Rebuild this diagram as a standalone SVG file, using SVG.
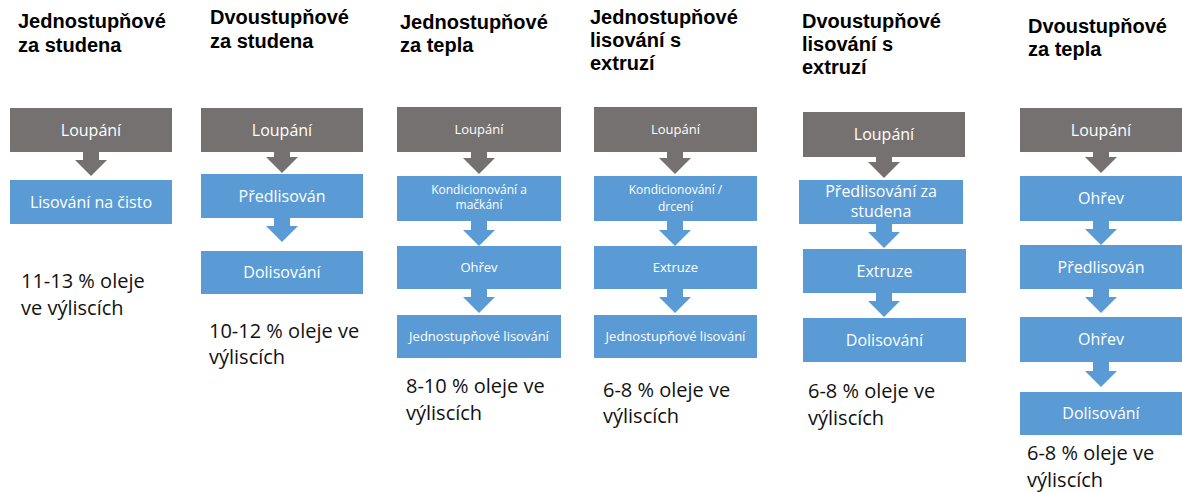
<svg xmlns="http://www.w3.org/2000/svg" width="1182" height="492" viewBox="0 0 1182 492">
<style>
.g{fill:#767171}
.b{fill:#5B9BD5}
.ga{fill:#767171}
.ba{fill:#5B9BD5}
.t{font-family:"Liberation Sans",Arial,sans-serif;font-weight:bold;font-size:20px;fill:#000}
.l{font-family:"Open Sans","Noto Sans",sans-serif;font-size:16px;fill:#fff;text-anchor:middle}
.s{font-family:"Open Sans","Noto Sans",sans-serif;font-size:13px;fill:#fff;text-anchor:middle}
.xs{font-family:"Open Sans","Noto Sans",sans-serif;font-size:12px;fill:#fff;text-anchor:middle}
.p{font-family:"Open Sans","Noto Sans",sans-serif;font-size:20px;fill:#111}
</style>
<rect width="1182" height="492" fill="#fff"/>

<!-- titles -->
<g id="titles">
<text class="t" x="18" y="28">Jednostupňové</text><text class="t" x="18" y="52">za studena</text>
<text class="t" x="210" y="24">Dvoustupňové</text><text class="t" x="210" y="48">za studena</text>
<text class="t" x="400" y="29">Jednostupňové</text><text class="t" x="400" y="52">za tepla</text>
<text class="t" x="590" y="24">Jednostupňové</text><text class="t" x="590" y="47">lisování s</text><text class="t" x="590" y="70">extruzí</text>
<text class="t" x="802" y="28">Dvoustupňové</text><text class="t" x="802" y="51">lisování s</text><text class="t" x="802" y="74">extruzí</text>
<text class="t" x="1028" y="33">Dvoustupňové</text><text class="t" x="1028" y="56">za tepla</text>
</g>

<!-- connectors -->
<g id="connectors">
<polygon class="ga" points="83,152 99,152 99,160 107,160 91,176 75,160 83,160"/>
<polygon class="ga" points="274,152 290,152 290,157 298,157 282,173 266,157 274,157"/>
<polygon class="ba" points="274,218 290,218 290,226 298,226 282,242 266,226 274,226"/>
<polygon class="ga" points="471,152 487,152 487,158 495,158 479,174 463,158 471,158"/>
<polygon class="ba" points="471,221 487,221 487,230 495,230 479,246 463,230 471,230"/>
<polygon class="ba" points="471,289 487,289 487,297 495,297 479,313 463,297 471,297"/>
<polygon class="ga" points="667,152 683,152 683,158 691,158 675,174 659,158 667,158"/>
<polygon class="ba" points="667,221 683,221 683,230 691,230 675,246 659,230 667,230"/>
<polygon class="ba" points="667,289 683,289 683,297 691,297 675,313 659,297 667,297"/>
<polygon class="ga" points="876,157 892,157 892,162 900,162 884,178 868,162 876,162"/>
<polygon class="ba" points="876,224 892,224 892,232 900,232 884,248 868,232 876,232"/>
<polygon class="ba" points="876,293 892,293 892,301 900,301 884,317 868,301 876,301"/>
<polygon class="ga" points="1093,152 1109,152 1109,157 1117,157 1101,173 1085,157 1093,157"/>
<polygon class="ba" points="1093,221 1109,221 1109,229 1117,229 1101,245 1085,229 1093,229"/>
<polygon class="ba" points="1093,289 1109,289 1109,297 1117,297 1101,313 1085,297 1093,297"/>
<polygon class="ba" points="1093,362 1109,362 1109,371 1117,371 1101,387 1085,371 1093,371"/>
</g>

<!-- column 1 -->
<g id="c1-loupani"><rect class="g" x="10" y="108" width="162" height="44"/><text class="l" x="91" y="136">Loupání</text></g>
<g id="c1-lisovani"><rect class="b" x="10" y="180" width="162" height="44"/><text class="l" x="91" y="208">Lisování na čisto</text></g>
<g id="c1-olej"><text class="p" x="21" y="288">11-13 % oleje</text><text class="p" x="21" y="315">ve výliscích</text></g>

<!-- column 2 -->
<g id="c2-loupani"><rect class="g" x="201" y="108" width="162" height="44"/><text class="l" x="282" y="136">Loupání</text></g>
<g id="c2-predlisovan"><rect class="b" x="201" y="174" width="162" height="44"/><text class="l" x="282" y="202">Předlisován</text></g>
<g id="c2-dolisovani"><rect class="b" x="201" y="251" width="162" height="43"/><text class="l" x="282" y="278">Dolisování</text></g>
<g id="c2-olej"><text class="p" x="209" y="338">10-12 % oleje ve</text><text class="p" x="209" y="364">výliscích</text></g>

<!-- column 3 -->
<g id="c3-loupani"><rect class="g" x="397" y="107" width="164" height="45"/><text class="s" x="479" y="134">Loupání</text></g>
<g id="c3-kondicionovani"><rect class="b" x="397" y="176" width="164" height="45"/><text class="xs" x="479" y="194">Kondicionování a</text><text class="xs" x="479" y="209">mačkání</text></g>
<g id="c3-ohrev"><rect class="b" x="397" y="246" width="164" height="43"/><text class="s" x="479" y="272">Ohřev</text></g>
<g id="c3-lisovani"><rect class="b" x="397" y="315" width="164" height="43"/><text class="s" x="479" y="341">Jednostupňové lisování</text></g>
<g id="c3-olej"><text class="p" x="406" y="393">8-10 % oleje ve</text><text class="p" x="406" y="420">výliscích</text></g>

<!-- column 4 -->
<g id="c4-loupani"><rect class="g" x="594" y="107" width="163" height="45"/><text class="s" x="675.5" y="134">Loupání</text></g>
<g id="c4-kondicionovani"><rect class="b" x="594" y="176" width="163" height="45"/><text class="xs" x="675.5" y="194">Kondicionování /</text><text class="xs" x="675.5" y="211">drcení</text></g>
<g id="c4-extruze"><rect class="b" x="594" y="246" width="163" height="43"/><text class="s" x="675.5" y="272">Extruze</text></g>
<g id="c4-lisovani"><rect class="b" x="594" y="315" width="163" height="43"/><text class="s" x="675.5" y="341">Jednostupňové lisování</text></g>
<g id="c4-olej"><text class="p" x="603" y="397">6-8 % oleje ve</text><text class="p" x="603" y="423">výliscích</text></g>

<!-- column 5 -->
<g id="c5-loupani"><rect class="g" x="803" y="112" width="162" height="45"/><text class="l" x="884" y="140">Loupání</text></g>
<g id="c5-predlisovani"><rect class="b" x="799" y="180" width="164" height="44"/><text class="l" x="881" y="197">Předlisování za</text><text class="l" x="881" y="217">studena</text></g>
<g id="c5-extruze"><rect class="b" x="803" y="249" width="163" height="44"/><text class="l" x="884.5" y="277">Extruze</text></g>
<g id="c5-dolisovani"><rect class="b" x="803" y="318" width="163" height="44"/><text class="l" x="884.5" y="346">Dolisování</text></g>
<g id="c5-olej"><text class="p" x="808" y="398">6-8 % oleje ve</text><text class="p" x="808" y="425">výliscích</text></g>

<!-- column 6 -->
<g id="c6-loupani"><rect class="g" x="1020" y="108" width="162" height="44"/><text class="l" x="1101" y="136">Loupání</text></g>
<g id="c6-ohrev1"><rect class="b" x="1020" y="176" width="162" height="45"/><text class="l" x="1101" y="204">Ohřev</text></g>
<g id="c6-predlisovan"><rect class="b" x="1020" y="245" width="162" height="44"/><text class="l" x="1101" y="273">Předlisován</text></g>
<g id="c6-ohrev2"><rect class="b" x="1020" y="317" width="162" height="45"/><text class="l" x="1101" y="345">Ohřev</text></g>
<g id="c6-dolisovani"><rect class="b" x="1020" y="392" width="162" height="43"/><text class="l" x="1101" y="419">Dolisování</text></g>
<g id="c6-olej"><text class="p" x="1027" y="460">6-8 % oleje ve</text><text class="p" x="1027" y="487">výliscích</text></g>
</svg>
